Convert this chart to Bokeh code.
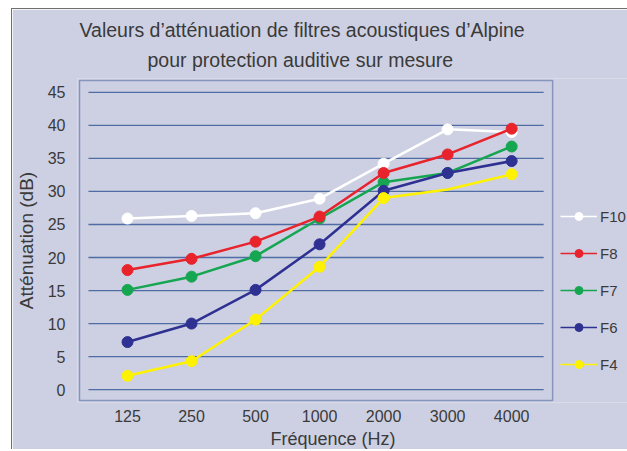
import math
from bokeh.plotting import figure
from bokeh.models import Range1d, FixedTicker, Legend, LegendItem, Title
from bokeh.embed import file_html
from bokeh.resources import INLINE

# ---- data ----
freqs = ["125", "250", "500", "1000", "2000", "3000", "4000"]
F10 = [25.9, 26.3, 26.7, 28.9, 34.2, 39.4, 39.0]
F8 = [18.1, 19.8, 22.4, 26.2, 32.8, 35.6, 39.5]
F7 = [15.1, 17.1, 20.2, 25.9, 31.4, 32.8, 36.8]
F6 = [7.2, 10.0, 15.1, 22.0, 30.1, 32.8, 34.6]
F4 = [2.1, 4.3, 10.6, 18.6, 29.0, 30.3, 32.6]
y_ticks = [0, 5, 10, 15, 20, 25, 30, 35, 40, 45]
series_names = ["F10", "F8", "F7", "F6", "F4"]

title_1 = "Valeurs d\u2019att\u00e9nuation de filtres acoustiques d\u2019Alpine"
title_2 = "pour protection auditive sur mesure"
x_title = "Fr\u00e9quence (Hz)"
y_title = "Att\u00e9nuation (dB)"

# ---- styles ----
BG = "#CDD0E2"
TXT = "#3a3a3a"
FONT = "Liberation Sans"
colors = {"F10": "#FFFFFF", "F8": "#E8232C", "F7": "#16A651", "F6": "#2E3192", "F4": "#FFF200"}
values = {"F10": F10, "F8": F8, "F7": F7, "F6": F6, "F4": F4}
# F4 has no marker drawn at 3000 Hz in the reference
no_marker = {"F4": ["3000"]}

xs = list(range(len(freqs)))
# visible plot box (drawn as a glyph) and the wider bokeh frame that also holds the legend
box_x0, box_x1 = -0.75, 6.64
box_y0, box_y1 = -1.65, 46.8
px_x = 64.14   # pixels per x unit
px_y = 300 / 45.0
x0, x1 = box_x0 - 2 / px_x, box_x0 - 2 / px_x + 552 / px_x
y0, y1 = box_y0 - 2 / px_y, box_y1 + 2 / px_y

p = figure(width=616, height=441, output_backend="svg", toolbar_location=None,
           x_range=Range1d(x0, x1), y_range=Range1d(y0, y1),
           min_border_left=64, min_border_right=0, min_border_top=69, min_border_bottom=45,
           background_fill_color=BG, border_fill_color=BG)
p.margin = (8, 0, 0, 11)
p.styles = {"border-left": "1px solid #707070", "border-top": "1px solid #707070"}

p.outline_line_color = None
p.xgrid.visible = False
p.ygrid.visible = False

for ax in (p.xaxis[0], p.yaxis[0]):
    ax.axis_line_color = None
    ax.major_tick_line_color = None
    ax.minor_tick_line_color = None
    ax.major_label_text_font = FONT
    ax.major_label_text_font_size = "16px"
    ax.major_label_text_color = TXT

p.xaxis.ticker = FixedTicker(ticks=xs)
p.xaxis.major_label_overrides = {i: f for i, f in zip(xs, freqs)}
p.xaxis.major_label_standoff = 1
p.yaxis.ticker = FixedTicker(ticks=y_ticks)
p.yaxis.major_label_standoff = 6

p.yaxis.axis_label = y_title
p.yaxis.axis_label_text_font = FONT
p.yaxis.axis_label_text_font_size = "19px"
p.yaxis.axis_label_text_font_style = "normal"
p.yaxis.axis_label_text_color = TXT
p.yaxis.axis_label_standoff = 8

# plot box outline
p.quad(left=[box_x0], right=[box_x1], bottom=[box_y0], top=[box_y1],
       fill_color=None, line_color="#8595BD", line_width=1.5)

# horizontal gridlines, inset from the box
inset = 9 / px_x
p.segment(x0=[box_x0 + inset] * len(y_ticks), y0=y_ticks,
          x1=[box_x1 - inset] * len(y_ticks), y1=y_ticks,
          line_color="#4F6CA5", line_width=1.3)

# series (drawing order chosen to match overlaps)
for name in ["F10", "F7", "F6", "F4", "F8"]:
    c = colors[name]
    v = values[name]
    p.line(xs, v, line_color=c, line_width=2.5)
    mv = [val if f not in no_marker.get(name, []) else math.nan for f, val in zip(freqs, v)]
    p.scatter(xs, mv, size=11, fill_color=c, line_color=c)

# legend (thin lines, small markers) using placeholder renderers
items = []
for name in series_names:
    c = colors[name]
    lr = p.line(x=[math.nan], y=[math.nan], line_color=c, line_width=1.5)
    sr = p.scatter(x=[math.nan], y=[math.nan], size=9, fill_color=c, line_color=c)
    items.append(LegendItem(label=name, renderers=[lr, sr]))
legend = Legend(items=items, location=(483, 28), glyph_width=37, glyph_height=20,
                label_height=20, spacing=17, padding=0, margin=0, label_standoff=3,
                border_line_color=None, background_fill_alpha=0,
                label_text_font=FONT, label_text_font_size="15px", label_text_color=TXT)
p.add_layout(legend, "center")

# titles (first added sits nearest to the frame)
p.add_layout(Title(text=title_2, align="left", offset=70, standoff=16, text_font=FONT,
                   text_font_size="19.5px", text_font_style="normal", text_color=TXT), "above")
p.add_layout(Title(text=title_1, align="left", offset=2, standoff=-4, text_font=FONT,
                   text_font_size="19.5px", text_font_style="normal", text_color=TXT), "above")
p.add_layout(Title(text=x_title, align="left", offset=193, standoff=4, text_font=FONT,
                   text_font_size="18px", text_font_style="normal", text_color=TXT), "below")

open("out.html", "w").write(file_html(p, INLINE))
